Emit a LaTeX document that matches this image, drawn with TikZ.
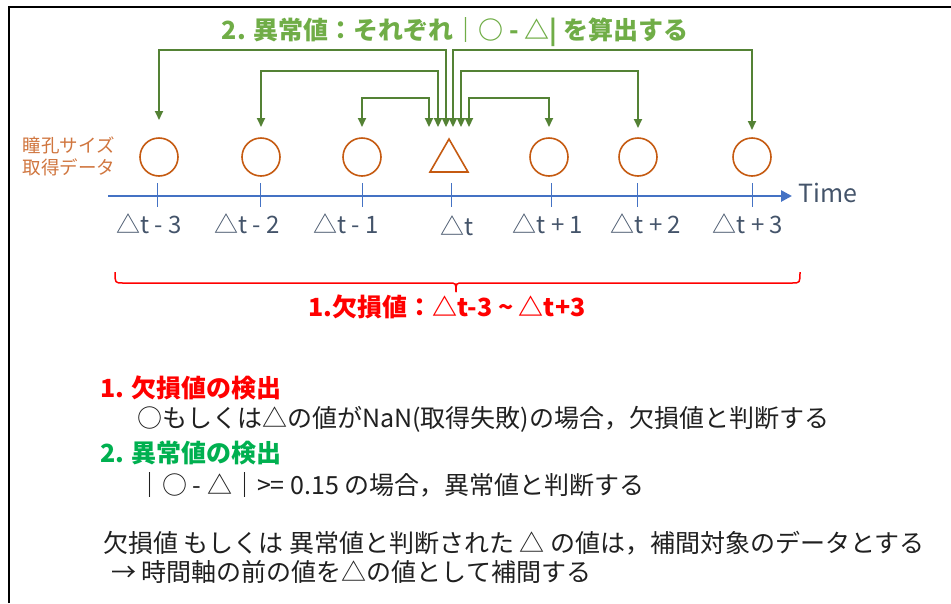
\documentclass[tikz,border=0pt]{standalone}
\usepackage{fontspec}
\setmainfont{Noto Sans CJK JP}
\usetikzlibrary{arrows.meta,shapes.geometric}
\definecolor{gtitle}{HTML}{70AD47}
\definecolor{garr}{HTML}{548235}
\definecolor{orng}{HTML}{C55A11}
\definecolor{otext}{HTML}{D0763F}
\definecolor{axblue}{HTML}{4472C4}
\definecolor{lblue}{HTML}{44546A}
\definecolor{sgreen}{HTML}{00B050}
\definecolor{bodyc}{HTML}{202020}
\tikzset{
  circ/.style={circle, draw=orng, line width=1.6pt, minimum size=38pt, inner sep=0pt, outer sep=0pt},
  tri/.style={regular polygon, regular polygon sides=3, draw=orng, line width=1.6pt, minimum size=43.9pt, inner sep=0pt, outer sep=0pt},
  garrow/.style={draw=garr, line width=1.8pt, {Triangle[length=9pt,width=8pt]}-{Triangle[length=9pt,width=8pt]}},
  axisline/.style={draw=axblue, line width=2.6pt, -{Triangle[length=11pt,width=11pt]}},
  tickline/.style={draw=axblue, line width=1pt},
  tlabel/.style={inner sep=0pt, text=lblue, font=\fontsize{24}{28}\selectfont},
  bodytext/.style={inner sep=0pt, anchor=west, text=bodyc, font=\fontsize{25}{30}\selectfont},
  headtext/.style={inner sep=0pt, anchor=west, font=\fontsize{25}{30}\selectfont\bfseries},
  bracel/.style={draw=red, line width=1.5pt}
}
\begin{document}
\begin{tikzpicture}[x=1pt,y=-1pt]
\useasboundingbox (0,0) rectangle (951,603);
\draw[black, line width=2pt] (9,603) -- (9,7) -- (951,7);

% title
\node[inner sep=0pt, text=gtitle, font=\fontsize{25}{30}\selectfont\bfseries] (title) at (455,32) {2. 異常値：それぞれ｜○ - △| を算出する};

% left label
\node[inner sep=0pt, align=left, text=otext, font=\fontsize{18.5}{22.5}\selectfont] (lbl) at (69,156.5) {瞳孔サイズ\\取得データ};

% data points
\node[circ] (c1) at (159,157) {};
\node[circ] (c2) at (261,157) {};
\node[circ] (c3) at (362,157) {};
\node[tri]  (tri) at (449,161) {};
\node[circ] (c5) at (549,157) {};
\node[circ] (c6) at (638,157) {};
\node[circ] (c7) at (752,157) {};

% green arrows
\draw[garrow] ([xshift=-20pt,yshift=12pt]tri.north) -- ++(0,-29) -| ([yshift=11pt]c3.north);
\draw[garrow] ([xshift=-11pt,yshift=12pt]tri.north) -- ++(0,-56) -| ([yshift=11pt]c2.north);
\draw[garrow] ([xshift=-3pt,yshift=12pt]tri.north) -- ++(0,-77) -| ([yshift=18pt]c1.north);
\draw[garrow] ([xshift=4pt,yshift=12pt]tri.north) -- ++(0,-77) -| ([yshift=8pt]c7.north);
\draw[garrow] ([xshift=12pt,yshift=12pt]tri.north) -- ++(0,-56) -| ([yshift=10pt]c6.north);
\draw[garrow] ([xshift=20pt,yshift=12pt]tri.north) -- ++(0,-29) -| ([yshift=11pt]c5.north);

% time axis
\coordinate (ax0) at (108,196);
\coordinate (ax1) at (792,196);
\draw[axisline] (ax0) -- (ax1);
\node[inner sep=0pt, anchor=west, text=lblue, font=\fontsize{25}{30}\selectfont] (time) at (798,193) {Time};
\foreach \x in {157,260,362,451,551,637,752} \draw[tickline] (\x,183) -- (\x,207);

\node[tlabel] (l1) at (149,224) {△t - 3};
\node[tlabel] (l2) at (247,224) {△t - 2};
\node[tlabel] (l3) at (346,224) {△t - 1};
\node[tlabel] (l4) at (457,226) {△t};
\node[tlabel] (l5) at (548,224) {△t + 1};
\node[tlabel] (l6) at (646,224) {△t + 2};
\node[tlabel] (l7) at (748,224) {△t + 3};

% brace
\draw[bracel] (115,272) .. controls (115,283) .. (123,283) -- (449,283) .. controls (456,283) .. (456,292);
\draw[bracel] (800,272) .. controls (800,283) .. (792,283) -- (463,283) .. controls (456,283) .. (456,292);
\node[inner sep=0pt, text=red, font=\fontsize{25}{30}\selectfont\bfseries] (miss) at (447,307) {1.欠損値：△t-3 \textasciitilde{} △t+3};

% explanation
\node[headtext, text=red] (h1) at (100,388) {1. 欠損値の検出};
\node[bodytext] (b1) at (137,419) {○もしくは△の値がNaN(取得失敗)の場合，欠損値と判断する};
\node[headtext, text=sgreen] (h2) at (100,453) {2. 異常値の検出};
\node[bodytext] (b2) at (137,485) {｜○ - △｜>= 0.15 の場合，異常値と判断する};
\node[bodytext] (b3) at (103,543) {欠損値 もしくは 異常値と判断された △ の値は，補間対象のデータとする};
\node[bodytext] (b4) at (111,572) {→ 時間軸の前の値を△の値として補間する};
\end{tikzpicture}
\end{document}
